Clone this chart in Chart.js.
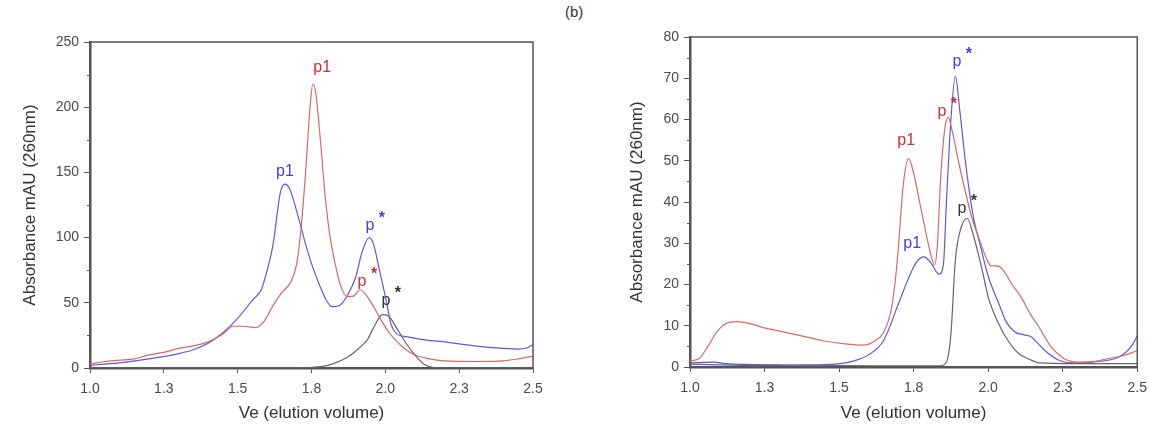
<!DOCTYPE html>
<html>
<head>
<meta charset="utf-8">
<script src="https://cdn.jsdelivr.net/npm/chart.js@4"></script>
<style>
  body { margin: 0; background: #fff; width: 1149px; height: 424px; position: relative; overflow: hidden; }
  .box { position: absolute; top: 0; height: 424px; }
  #panelTag { position: absolute; left: 565px; top: 3px; font: 15px "Liberation Sans", Arial, sans-serif; color: #333; }
</style>
</head>
<body>
<div id="panelTag">(b)</div>
<div class="box" style="left:0;width:560px"><canvas id="leftChart"></canvas></div>
<div class="box" style="left:600px;width:555px"><canvas id="rightChart"></canvas></div>
<script>
// x axis tick labels (ticks every 0.25, printed with one decimal)
var xTickLabels = ["1.0", "1.3", "1.5", "1.8", "2.0", "2.3", "2.5"];

// left panel, blue trace
var leftBlueVe  = [1.0, 1.05, 1.1, 1.2, 1.3, 1.35, 1.4, 1.45, 1.5, 1.55, 1.58, 1.6, 1.62, 1.645, 1.66, 1.675, 1.69, 1.71, 1.73, 1.75, 1.78, 1.80, 1.82, 1.845, 1.87, 1.90, 1.92, 1.945, 1.96, 1.98, 2.0, 2.02, 2.04, 2.07, 2.12, 2.2, 2.3, 2.4, 2.45, 2.48, 2.5];
var leftBlueAbs = [2, 3, 4, 7, 11, 14, 19, 27, 38, 52, 60, 75, 95, 135, 141, 138, 128, 112, 95, 80, 62, 52, 47, 48, 55, 70, 88, 100, 95, 75, 55, 33, 26, 24, 22, 20, 17, 15, 14.5, 15.5, 18];
// left panel, red trace
var leftRedVe  = [1.0, 1.05, 1.1, 1.15, 1.2, 1.25, 1.3, 1.35, 1.4, 1.45, 1.485, 1.52, 1.56, 1.59, 1.62, 1.65, 1.68, 1.70, 1.715, 1.73, 1.745, 1.755, 1.765, 1.78, 1.795, 1.81, 1.83, 1.85, 1.87, 1.89, 1.915, 1.935, 1.96, 1.98, 2.01, 2.04, 2.07, 2.1, 2.15, 2.2, 2.3, 2.4, 2.45, 2.5];
var leftRedAbs = [3, 5, 6, 7, 10, 12, 15, 17, 20, 26, 32, 32, 31, 36, 48, 58, 66, 80, 108, 150, 200, 218, 210, 175, 135, 105, 80, 62, 55, 55, 60, 56, 47, 39, 28, 20, 14, 10, 7, 5.5, 5, 5.5, 7, 9];
// left panel, black trace
var leftGrayVe  = [1.0, 1.5, 1.7, 1.78, 1.82, 1.87, 1.91, 1.94, 1.965, 1.99, 2.01, 2.04, 2.07, 2.1, 2.13, 2.16, 2.2, 2.5];
var leftGrayAbs = [0, 0, 0, 1, 3, 8, 15, 22, 33, 41, 40, 30, 19, 10, 3, 0.5, 0, 0];

// right panel, blue trace
var rightBlueVe  = [1.0, 1.1, 1.2, 1.3, 1.4, 1.5, 1.55, 1.6, 1.65, 1.7, 1.73, 1.76, 1.785, 1.81, 1.835, 1.85, 1.86, 1.875, 1.89, 1.905, 1.925, 1.95, 1.97, 2.0, 2.035, 2.06, 2.09, 2.12, 2.145, 2.17, 2.19, 2.235, 2.29, 2.35, 2.44, 2.48, 2.5];
var rightBlueAbs = [0.7, 0.5, 0.4, 0.4, 0.5, 0.8, 1.5, 3, 6.5, 15.5, 21, 25.5, 26.7, 25, 22.5, 25, 40, 60, 70.5, 62, 49, 36.5, 30.5, 22, 15.5, 11, 8.5, 7.8, 7.3, 5.5, 4, 1.7, 1.0, 1.2, 2.5, 5, 7.5];
// right panel, red trace
var rightRedVe  = [1.0, 1.03, 1.06, 1.09, 1.12, 1.16, 1.2, 1.25, 1.3, 1.37, 1.45, 1.52, 1.58, 1.62, 1.65, 1.675, 1.69, 1.70, 1.715, 1.733, 1.75, 1.77, 1.79, 1.805, 1.82, 1.83, 1.84, 1.855, 1.866, 1.88, 1.90, 1.925, 1.95, 1.97, 1.99, 2.01, 2.03, 2.05, 2.08, 2.11, 2.14, 2.17, 2.21, 2.26, 2.3, 2.35, 2.4, 2.46, 2.5];
var rightRedAbs = [1.5, 2, 5, 8.5, 10.5, 11, 10.5, 9.5, 8.7, 7.6, 6.3, 5.6, 5.3, 6.3, 8.5, 14, 22, 30, 44, 50.5, 47, 40, 33, 28, 24.7, 30, 45, 58, 60.5, 57, 50, 42, 35, 31, 27, 24.5, 24.5, 23.5, 20, 17, 13, 9.7, 5, 1.8, 1.2, 1.3, 2, 2.9, 4];
// right panel, black trace
var rightGrayVe  = [1.0, 1.08, 1.12, 1.3, 1.6, 1.84, 1.86, 1.875, 1.89, 1.91, 1.93, 1.95, 1.98, 2.0, 2.035, 2.07, 2.1, 2.14, 2.17, 2.3, 2.5];
var rightGrayAbs = [1.0, 1.2, 0.8, 0.5, 0.3, 0.3, 1.2, 8, 26, 34, 36, 32, 23.5, 17, 10.5, 6, 3.4, 1.8, 1, 0.8, 0.8];

// peak labels: text, Ve, absorbance, star, colour
var leftPeakText  = ["p1", "p1", "p", "p", "p"];
var leftPeakVe    = [1.660, 1.786, 1.948, 1.921, 2.002];
var leftPeakAbs   = [151, 230, 109, 66, 52];
var leftPeakStar  = [false, false, true, true, true];
var leftPeakColor = ["#4040e8", "#cc3030", "#4040e8", "#cc3030", "#333333"];

var rightPeakText  = ["p1", "p1", "p", "p", "p"];
var rightPeakVe    = [1.725, 1.745, 1.845, 1.895, 1.912];
var rightPeakAbs   = [55, 30, 61.8, 74, 38.5];
var rightPeakStar  = [false, false, true, true, true];
var rightPeakColor = ["#cc3030", "#4040e8", "#cc3030", "#4040e8", "#333333"];

var BLUE = "#5a5ae6";
var RED = "#e06666";
var GRAY = "#666666";
var AXIS = "#555555";
var FONT = '"Liberation Sans", Arial, sans-serif';

Chart.defaults.font.family = FONT;
Chart.defaults.color = "#444";

function toPoints(xs, ys) {
    return xs.map(function (x, i) { return { x: x, y: ys[i] }; });
}

function line(xs, ys, color) {
    return {
        data: toPoints(xs, ys),
        borderColor: color,
        borderWidth: 1.2,
        pointRadius: 0,
        fill: false,
        cubicInterpolationMode: 'monotone'
    };
}

// frame, minor y ticks and peak labels
var decorPlugin = {
    id: 'decor',
    afterDraw: function (chart) {
        var ctx = chart.ctx;
        var a = chart.chartArea;
        var xs = chart.scales.x;
        var ys = chart.scales.y;
        var o = chart.options.plugins.decor;
        ctx.save();
        ctx.strokeStyle = AXIS;
        ctx.lineWidth = 1.5;
        ctx.beginPath();
        ctx.moveTo(a.left, a.top);
        ctx.lineTo(a.right, a.top);
        ctx.lineTo(a.right, a.bottom);
        ctx.stroke();
        ctx.lineWidth = 1;
        for (var v = o.minorStep; v < ys.max; v += o.minorStep * 2) {
            var py = Math.round(ys.getPixelForValue(v)) + 0.5;
            ctx.beginPath();
            ctx.moveTo(a.left - 3, py);
            ctx.lineTo(a.left, py);
            ctx.stroke();
        }
        ctx.textAlign = 'center';
        ctx.textBaseline = 'middle';
        for (var i = 0; i < o.text.length; i++) {
            var px = xs.getPixelForValue(o.ve[i]);
            var pyl = ys.getPixelForValue(o.abs[i]);
            ctx.fillStyle = o.color[i];
            ctx.font = '16px ' + FONT;
            ctx.fillText(o.text[i], px, pyl);
            if (o.star[i]) {
                ctx.font = 'bold 16px ' + FONT;
                ctx.fillText('*', px + 12, pyl - 7);
            }
        }
        ctx.restore();
    }
};

function makeChart(id, datasets, yMax, yStep, peaks, pad, yWidth, xHeight, yTitlePad) {
    return new Chart(document.getElementById(id), {
        type: 'line',
        data: { datasets: datasets },
        plugins: [decorPlugin],
        options: {
            responsive: true,
            maintainAspectRatio: false,
            animation: false,
            events: [],
            layout: { padding: pad },
            plugins: {
                legend: { display: false },
                tooltip: { enabled: false },
                decor: {
                    minorStep: yStep / 2,
                    text: peaks[0], ve: peaks[1], abs: peaks[2], star: peaks[3], color: peaks[4]
                }
            },
            scales: {
                x: {
                    type: 'linear',
                    min: 1.0,
                    max: 2.5,
                    afterFit: function (s) { s.height = xHeight; },
                    ticks: {
                        stepSize: 0.25,
                        font: { size: 14 },
                        color: '#4a4a4a',
                        padding: 8,
                        maxRotation: 0,
                        callback: function (v, i) { return xTickLabels[i]; }
                    },
                    grid: { drawOnChartArea: false, tickLength: 5, color: AXIS, tickWidth: 1 },
                    border: { color: AXIS, width: 2.5 },
                    title: {
                        display: true,
                        text: 'Ve (elution volume)',
                        font: { size: 17 },
                        color: '#333',
                        padding: { top: 0, bottom: 0 }
                    }
                },
                y: {
                    min: 0,
                    max: yMax,
                    afterFit: function (s) { s.width = yWidth; },
                    ticks: {
                        stepSize: yStep,
                        font: { size: 14 },
                        color: '#4a4a4a',
                        padding: 5
                    },
                    grid: { drawOnChartArea: false, tickLength: 6, color: AXIS, tickWidth: 1 },
                    border: { color: AXIS, width: 2.5 },
                    title: {
                        display: true,
                        text: 'Absorbance mAU (260nm)',
                        font: { size: 17 },
                        color: '#333',
                        padding: { top: yTitlePad, bottom: 0 }
                    }
                }
            }
        }
    });
}

makeChart('leftChart',
    [line(leftGrayVe, leftGrayAbs, GRAY), line(leftRedVe, leftRedAbs, RED), line(leftBlueVe, leftBlueAbs, BLUE)],
    250, 50,
    [leftPeakText, leftPeakVe, leftPeakAbs, leftPeakStar, leftPeakColor],
    { top: 42, right: 27, left: 0, bottom: 0 }, 90, 56, 20);

makeChart('rightChart',
    [line(rightGrayVe, rightGrayAbs, GRAY), line(rightRedVe, rightRedAbs, RED), line(rightBlueVe, rightBlueAbs, BLUE)],
    80, 10,
    [rightPeakText, rightPeakVe, rightPeakAbs, rightPeakStar, rightPeakColor],
    { top: 37, right: 13, left: 0, bottom: 0 }, 90, 57, 27);
</script>
</body>
</html>
